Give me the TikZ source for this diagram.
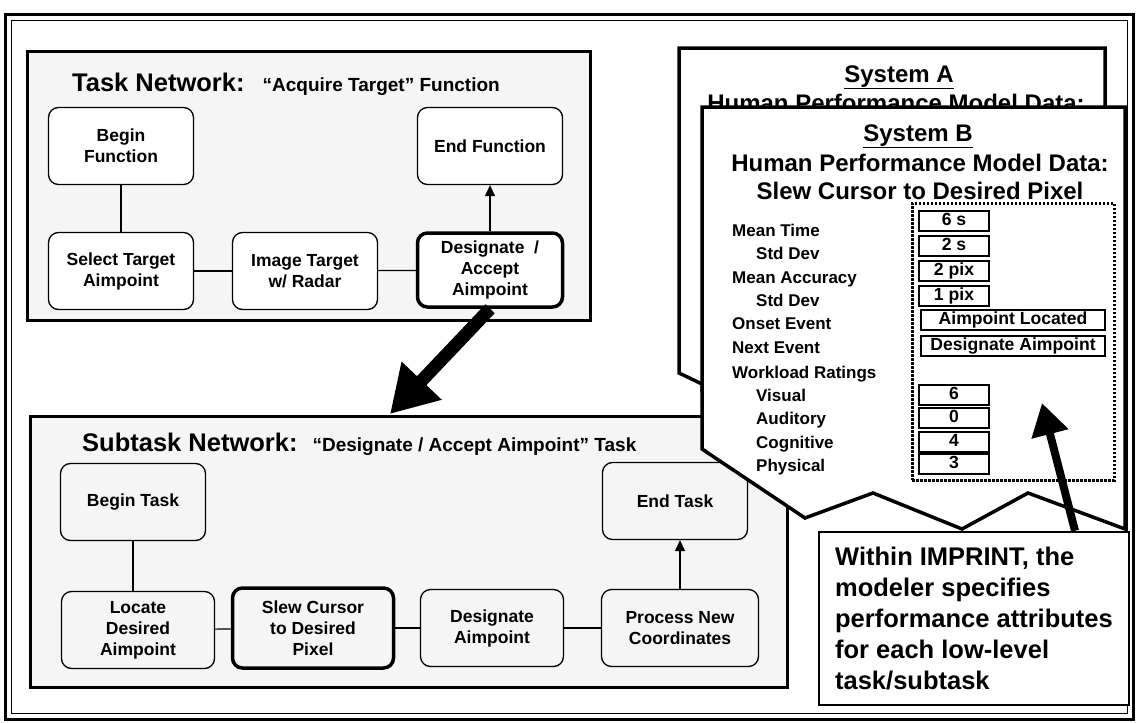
\documentclass[tikz,border=0pt]{standalone}
\usepackage{fontspec}
\setmainfont{Liberation Sans}
\usetikzlibrary{arrows.meta}

\newcommand{\nwtitle}{\fontsize{25.5}{30}\selectfont\bfseries}
\newcommand{\nwsub}{\fontsize{19}{22}\selectfont\bfseries}
\newcommand{\nwnode}{\fontsize{17.5}{21}\selectfont\bfseries}
\newcommand{\hpmhead}{\fontsize{24}{29}\selectfont\bfseries}
\newcommand{\hpmrow}{\fontsize{17}{20}\selectfont\bfseries}
\newcommand{\hpmval}{\fontsize{17.6}{20}\selectfont\bfseries}
\newcommand{\impfont}{\fontsize{25.5}{31}\selectfont\bfseries}

\begin{document}
\begin{tikzpicture}[x=1pt, y=-1pt,
    netbox/.style={draw, line width=3pt, fill=black!4},
    tnode/.style={draw, line width=1.3pt, rounded corners=10pt, align=center, font=\nwnode,
                  minimum width=145pt, minimum height=77pt, inner sep=2pt},
    hot/.style={line width=3.5pt},
    panel/.style={draw, line width=3.5pt, fill=white},
    row/.style={anchor=base west, font=\hpmrow, inner sep=0pt},
    val/.style={draw, line width=1.3pt, font=\hpmval, inner sep=0pt, minimum height=20pt,
                text height=12.5pt, text depth=3.5pt},
    link/.style={line width=1.2pt},
    fat/.style={line width=13pt, -{Triangle[length=46pt, width=52pt]}}
  ]
        \useasboundingbox (0,0) rectangle (1136,723);
        \draw[line width=3pt] (5,14) rectangle (1133,719);
        \draw[line width=1pt] (11,20) rectangle (1127,713);

        % task network
        \node[netbox, minimum width=563pt, minimum height=269pt] at (308.5,185.5) (tnet) {};
        \node[anchor=base west, inner sep=0pt] at (72, 91) (tnettitle)
            {{\nwtitle Task Network:}\hspace{18pt}{\nwsub “Acquire Target” Function}};
        \node[tnode, fill=white] at (121, 146)   (bfn) {Begin\\Function};
        \node[tnode, fill=white] at (490, 146)   (efn) {End Function};
        \node[tnode, fill=white] at (121, 271)   (sta) {Select Target\\Aimpoint};
        \node[tnode, fill=white] at (305, 271)   (itr) {Image Target\\w/ Radar};
        \node[tnode, fill=white, hot, minimum height=74pt] at (490, 270)   (daa) {Designate \ /\\Accept\\Aimpoint};
        \draw[link] (bfn) -- (sta);
        \draw[link] (sta) -- (itr);
        \draw[link] (itr) -- (daa);
        \draw[link, -{Triangle[length=11pt, width=10pt]}] (daa) -- (efn);

        % subtask network
        \node[netbox, minimum width=757pt, minimum height=271pt] at (408.5,551.5) (snet) {};
        \node[anchor=base west, inner sep=0pt] at (82, 451) (snettitle)
            {{\nwtitle Subtask Network:}\hspace{15pt}{\nwsub “Designate / Accept Aimpoint” Task}};
        \node[tnode] at (133, 502)   (btk) {Begin Task};
        \node[tnode] at (675, 501)   (etk) {End Task};
        \node[tnode, minimum width=153pt] at (138, 630)   (lda) {Locate\\Desired\\Aimpoint};
        \node[tnode, hot, minimum width=161pt, minimum height=80pt] at (313, 628)   (scp) {Slew Cursor\\to Desired\\Pixel};
        \node[tnode, minimum width=143pt] at (492, 628)   (dap) {Designate\\Aimpoint};
        \node[tnode, minimum width=157pt] at (680, 628)   (pnc) {Process New\\Coordinates};
        \draw[link] (btk) -- (btk |- lda.north);
        \draw[link] (lda) -- (scp);
        \draw[link] (scp) -- (dap);
        \draw[link] (dap) -- (pnc);
        \draw[link, -{Triangle[length=11pt, width=10pt]}] (pnc) -- (pnc |- etk.south);

        \coordinate (drop) at (390, 414);
        \draw[fat] (daa.south) -- (drop);

        % performance data sheets
        \draw[panel] (679,48) -- (1105,48) -- (1105,390) -- (702,390) -- (702,384) -- (679,373) -- cycle;
        \node[anchor=base, font=\hpmhead, inner sep=0pt] at (899, 82)   (sysa) {\underline{System A}};
        \node[anchor=base, font=\hpmhead, inner sep=0pt] at (896, 111)  (hpma) {Human Performance Model Data:};

        \draw[panel] (702,107) -- (1125,107) -- (1125,529) -- (1028,493) -- (962,529) -- (873,493)
            -- (805,518) -- (702,449) -- cycle;
        \node[anchor=base, font=\hpmhead, inner sep=0pt] at (918, 141)  (sysb) {\underline{System B}};
        \node[anchor=base, font=\hpmhead, inner sep=0pt] at (920, 171)  (hpmb) {Human Performance Model Data:};
        \node[anchor=base, font=\hpmhead, inner sep=0pt] at (920, 199)  (slew) {Slew Cursor to Desired Pixel};

        \node[row] at (732, 236)   (mt)  {Mean Time};
        \node[row] at (756, 259)   (sd1) {Std Dev};
        \node[row] at (732, 283)   (ma)  {Mean Accuracy};
        \node[row] at (756, 306)   (sd2) {Std Dev};
        \node[row] at (732, 329)   (oe)  {Onset Event};
        \node[row] at (732, 353)   (ne)  {Next Event};
        \node[row] at (732, 378)   (wr)  {Workload Ratings};
        \node[row] at (756, 401)   (vis) {Visual};
        \node[row] at (756, 424)   (aud) {Auditory};
        \node[row] at (756, 448)   (cog) {Cognitive};
        \node[row] at (756, 471)   (phy) {Physical};

        \node[draw, line width=3pt, dash pattern=on 2.5pt off 1.5pt, minimum width=202pt, minimum height=277pt]
            at (1013, 341.5) (vals) {};
        \node[val, minimum width=70pt]  at (954, 221)    (vmt)  {6 s};
        \node[val, minimum width=70pt]  at (954, 246)    (vsd1) {2 s};
        \node[val, minimum width=70pt]  at (954, 271)    (vma)  {2 pix};
        \node[val, minimum width=70pt]  at (954, 296)    (vsd2) {1 pix};
        \node[val, minimum width=184pt] at (1013, 320)   (voe)  {Aimpoint Located};
        \node[val, minimum width=184pt] at (1013, 346)   (vne)  {Designate Aimpoint};
        \node[val, minimum width=70pt]  at (954, 395)    (vvis) {6};
        \node[val, minimum width=70pt]  at (954, 418)    (vaud) {0};
        \node[val, minimum width=70pt]  at (954, 442)    (vcog) {4};
        \node[val, minimum width=70pt]  at (954, 464)    (vphy) {3};

        % callout
        \node[draw, line width=2.5pt, fill=white, font=\impfont, align=left,
              minimum width=310pt, minimum height=173pt] at (974, 618.5) (imp)
            {Within IMPRINT, the\\modeler specifies\\performance attributes\\for each low-level\\task/subtask};
        \coordinate (aim) at (1042, 403);
        \draw[line width=8pt, -{Triangle[length=32pt, width=36pt]}] ([xshift=101pt]imp.north) -- (aim);
\end{tikzpicture}
\end{document}
